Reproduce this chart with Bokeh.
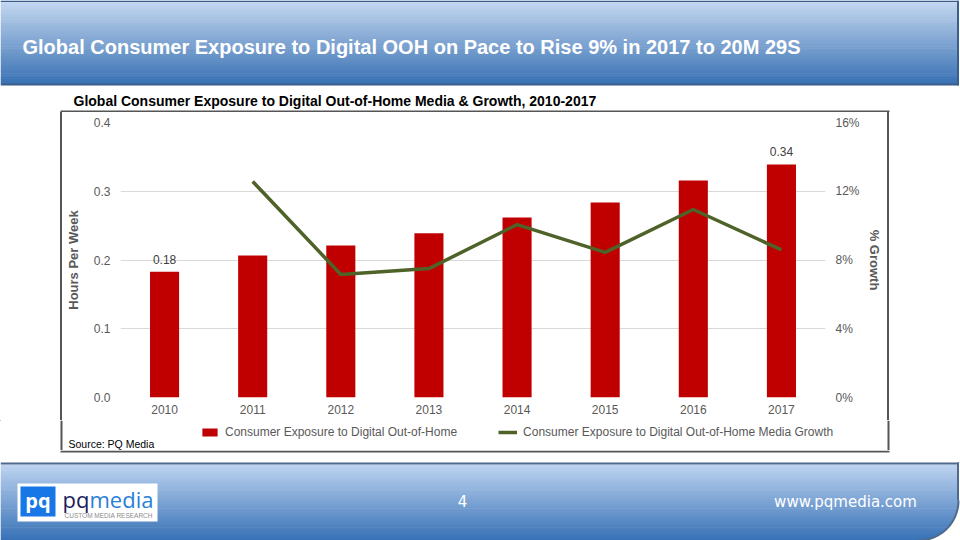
import numpy as np
from bokeh.plotting import figure
from bokeh.layouts import column, row
from bokeh.models import (ColumnDataSource, FactorRange, Range1d, LinearAxis, FixedTicker,
                          PrintfTickFormatter, Legend, LegendItem, Spacer)
from bokeh.core.properties import value
from bokeh.embed import file_html
from bokeh.resources import INLINE

# ---------------- data ----------------
years = ["2010", "2011", "2012", "2013", "2014", "2015", "2016", "2017"]
hours = [0.183, 0.2065, 0.221, 0.239, 0.262, 0.2836, 0.3156, 0.339]
growth_years = ["2011", "2012", "2013", "2014", "2015", "2016", "2017"]
growth = [12.57, 7.16, 7.5, 10.06, 8.44, 10.94, 8.59]
left_ticks = [0, 0.1, 0.2, 0.3, 0.4]
right_ticks = [0, 4, 8, 12, 16]
label_years = ["2010", "2017"]

title_text = "Global Consumer Exposure to Digital OOH on Pace to Rise 9% in 2017 to 20M 29S"
subtitle_text = "Global Consumer Exposure to Digital Out-of-Home Media & Growth, 2010-2017"
bar_legend = "Consumer Exposure to Digital Out-of-Home"
line_legend = "Consumer Exposure to Digital Out-of-Home Media Growth"
source_text = "Source: PQ Media"
page_number = "4"
url_text = "www.pqmedia.com"

FONT_NAME = "Liberation Sans"
FONT = value(FONT_NAME)
GRAY = "#595959"
BOX = "#555555"
BAR_COLOR = "#C00000"
LINE_COLOR = "#4F6228"
HEAD_TOP, CHART_BOT, HEAD_BOT = 112, 420, 450   # page y positions of the middle strips


def deco_fig(w, h, x0, x1, y_top, y_bot):
    f = figure(width=w, height=h, x_range=Range1d(x0, x1), y_range=Range1d(y_bot, y_top),
               toolbar_location=None, output_backend="svg", min_border=0,
               x_axis_type=None, y_axis_type=None, outline_line_color=None)
    f.background_fill_color = "white"
    f.border_fill_color = "white"
    return f


def gradient(f, x0, x1, ytop, ybot, c_top, c_bot, n=40):
    edges = np.linspace(ytop, ybot, n + 1)
    t = (np.arange(n) + 0.5) / n
    cols = ["#%02x%02x%02x" % tuple(int(round(a + (b - a) * tt)) for a, b in zip(c_top, c_bot))
            for tt in t]
    f.quad(left=x0, right=x1, top=edges[:-1], bottom=edges[1:] + 0.6,
           fill_color=cols, line_color=None)


# ---------------- header ----------------
header = deco_fig(960, HEAD_TOP, 0, 960, 0, HEAD_TOP)
gradient(header, 0, 958, 0, 83, (198, 217, 241), (57, 113, 179))
header.quad(left=0, right=958, top=0, bottom=1.5, fill_color="#3b5f8c", line_color=None)
header.quad(left=0, right=958, top=83, bottom=85, fill_color="#3b5f8c", line_color=None)
header.quad(left=956.5, right=958.5, top=0, bottom=85, fill_color="#3b5f8c", line_color=None)
header.quad(left=60, right=889, top=110, bottom=112, fill_color=BOX, line_color=None)
header.text(x=[22], y=[46], text=[title_text], text_color="white", text_font=FONT,
            text_font_style="bold", text_font_size="20px", text_baseline="middle",
            text_align="left")
header.text(x=[73], y=[100], text=[subtitle_text], text_color="black", text_font=FONT,
            text_font_style="bold", text_font_size="14px", text_baseline="middle",
            text_align="left")

# ---------------- side strips (box borders, CSS) ----------------
MID_H = CHART_BOT - HEAD_TOP
left_strip = Spacer(width=62, height=MID_H,
                    styles={"border-right": "2px solid " + BOX, "box-sizing": "border-box"})
right_strip = Spacer(width=73, height=MID_H,
                     styles={"border-left": "2px solid " + BOX, "box-sizing": "border-box"})

# ---------------- chart ----------------
p = figure(width=825, height=MID_H, x_range=FactorRange(*years),
           y_range=Range1d(0, 0.4), toolbar_location=None, output_backend="svg",
           min_border_left=54, min_border_right=62, min_border_top=10,
           min_border_bottom=CHART_BOT - 397, outline_line_color=None)
p.background_fill_color = "white"
p.border_fill_color = "white"
p.extra_y_ranges = {"g": Range1d(0, 16)}

src = ColumnDataSource(dict(year=years, hours=hours))
p.vbar(x="year", top="hours", width=0.33, source=src, fill_color=BAR_COLOR, line_color=None)
gsrc = ColumnDataSource(dict(year=growth_years, growth=growth))
p.line(x="year", y="growth", source=gsrc, y_range_name="g", line_color=LINE_COLOR,
       line_width=3.5)

lab_vals = [hours[years.index(y)] for y in label_years]
lsrc = ColumnDataSource(dict(year=label_years, v=lab_vals, t=["%.2f" % v for v in lab_vals]))
p.text(x="year", y="v", text="t", source=lsrc, text_align="center", text_baseline="bottom",
       y_offset=-8, text_font=FONT, text_font_size="12px", text_color="#404040")

p.xgrid.visible = False
p.ygrid.grid_line_color = "#D9D9D9"
p.ygrid.grid_line_width = 1

p.yaxis.ticker = FixedTicker(ticks=left_ticks)
p.yaxis.formatter = PrintfTickFormatter(format="%.1f")
p.yaxis.axis_label = "Hours Per Week"

raxis = LinearAxis(y_range_name="g", ticker=FixedTicker(ticks=right_ticks),
                   formatter=PrintfTickFormatter(format="%d%%"), axis_label="% Growth")
p.add_layout(raxis, "right")

for ax in [p.xaxis[0], p.yaxis[0], raxis]:
    ax.axis_line_color = None
    ax.major_tick_line_color = None
    ax.minor_tick_line_color = None
    ax.major_tick_in = 0
    ax.major_tick_out = 0
    ax.major_label_text_font = FONT_NAME
    ax.major_label_text_font_size = "12px"
    ax.major_label_text_color = GRAY
    ax.axis_label_text_font = FONT_NAME
    ax.axis_label_text_font_style = "bold"
    ax.axis_label_text_font_size = "13px"
    ax.axis_label_text_color = GRAY
p.xaxis.major_label_standoff = 7
p.yaxis.major_label_standoff = 10
p.yaxis.axis_label_standoff = 10
raxis.major_label_standoff = 10
raxis.axis_label_standoff = 4

# ---------------- legend + source strip (full width) ----------------
lf = deco_fig(960, HEAD_BOT - CHART_BOT, 0, 960, CHART_BOT, HEAD_BOT)
lf.quad(left=60, right=62, top=CHART_BOT, bottom=HEAD_BOT, fill_color=BOX, line_color=None)
lf.quad(left=887, right=889, top=CHART_BOT, bottom=HEAD_BOT, fill_color=BOX, line_color=None)
# legend-key renderers: same data, falling outside this strip's view
leg_bar = lf.vbar(x="hours", top="hours", width=0.33, source=src, fill_color=BAR_COLOR,
                  line_color=None)
leg_line = lf.line(x="growth", y="growth", source=gsrc, line_color=LINE_COLOR, line_width=3.5)
legend = Legend(items=[LegendItem(label=bar_legend, renderers=[leg_bar]),
                       LegendItem(label=line_legend, renderers=[leg_line])],
                orientation="horizontal", location=(200, 11), glyph_width=19,
                glyph_height=10, label_standoff=6, spacing=41, padding=0, margin=0,
                border_line_color=None, background_fill_alpha=0, label_text_font=FONT_NAME,
                label_text_font_size="12px", label_text_color=GRAY, label_height=12)
lf.add_layout(legend)
lf.text(x=[68], y=[443], text=[source_text], text_color="black", text_font=FONT,
        text_font_size="10.5px", text_baseline="middle", text_align="left")

# ---------------- footer ----------------
footer = deco_fig(960, 540 - HEAD_BOT, 0, 960, HEAD_BOT, 540)
footer.quad(left=60, right=889, top=HEAD_BOT, bottom=HEAD_BOT + 2, fill_color=BOX,
            line_color=None)
gradient(footer, 0, 960, 464, 540, (190, 212, 240), (55, 113, 182))
footer.quad(left=0, right=960, top=462, bottom=464, fill_color="#4f6a8c", line_color=None)
ang = np.linspace(0, np.pi / 2, 20)
cx, cy, r = 918, 500, 40
arc_x = list(cx + r * np.cos(ang))
arc_y = list(cy + r * np.sin(ang))
footer.patch(x=arc_x + [960, 960], y=arc_y + [545, 500], fill_color="white", line_color=None)
footer.quad(left=958, right=960, top=462, bottom=500, fill_color="white", line_color=None)
footer.line(x=arc_x, y=arc_y, line_color="#4f6a8c", line_width=2)
footer.quad(left=956.5, right=958.5, top=462, bottom=500, fill_color="#4f6a8c", line_color=None)

# logo
footer.quad(left=17, right=157, top=483, bottom=521, fill_color="white", line_color=None)
footer.quad(left=20, right=55, top=486, bottom=516, fill_color="#1877E6", line_color=None)
footer.text(x=[37.5], y=[500], text=["pq"], text_color="white", text_font=value("Open Sans"),
            text_font_style="bold", text_font_size="20px", text_align="center",
            text_baseline="middle")
footer.text(x=[62], y=[498], text=["pq"], text_color="#1b1f5e", text_font=value("Open Sans"),
            text_font_size="22px", text_align="left", text_baseline="middle")
footer.text(x=[89], y=[498], text=["media"], text_color="#2b80d6", text_font=value("Open Sans"),
            text_font_size="22px", text_align="left", text_baseline="middle")
footer.text(x=[64], y=[514.5], text=["CUSTOM MEDIA RESEARCH"], text_color="#8c8c8c",
            text_font=FONT, text_font_size="6.5px", text_align="left", text_baseline="middle")

footer.text(x=[462], y=[500], text=[page_number], text_color="white",
            text_font=value("DejaVu Sans"), text_font_size="15px", text_align="center",
            text_baseline="middle")
footer.text(x=[845], y=[501], text=[url_text], text_color="white",
            text_font=value("DejaVu Sans"), text_font_size="15px", text_align="center",
            text_baseline="middle")

mid = row(left_strip, p, right_strip)
page = column(header, mid, lf, footer)

open("out.html", "w").write(file_html(page, INLINE))
